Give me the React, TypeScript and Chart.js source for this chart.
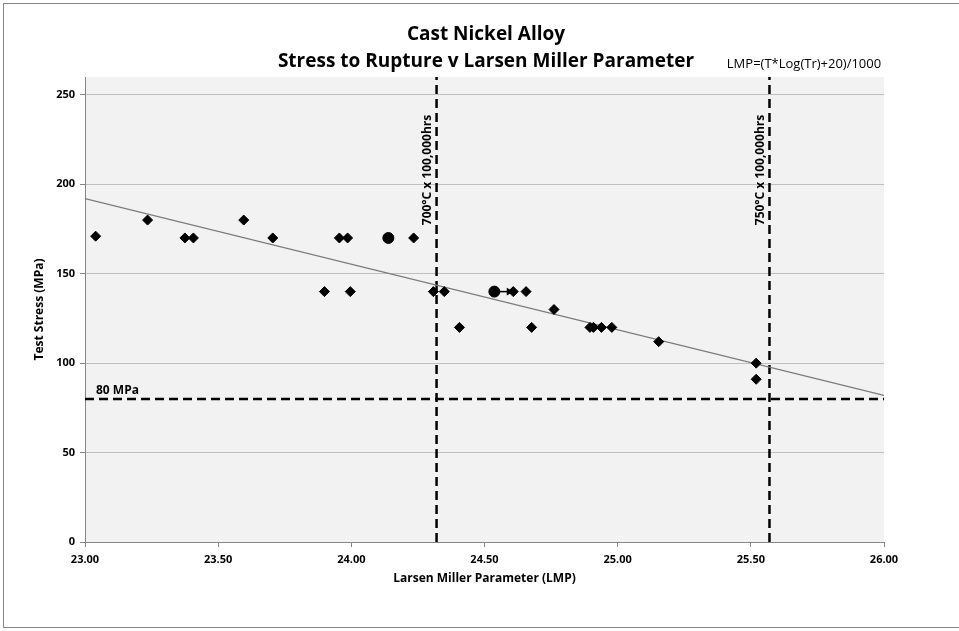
import React, { useEffect, useRef } from "react";
import { Chart, registerables } from "chart.js";

Chart.register(...registerables);

const FONT = '"Open Sans", "Liberation Sans", sans-serif';

const TITLE = "Cast Nickel Alloy";
const SUBTITLE = "Stress to Rupture v Larsen Miller Parameter";
const FORMULA = "LMP=(T*Log(Tr)+20)/1000";
const X_TITLE = "Larsen Miller Parameter (LMP)";
const Y_TITLE = "Test Stress (MPa)";

const diamondLmp = [23.04, 23.235, 23.375, 23.407, 23.596, 23.705, 23.899, 23.955, 23.986, 23.996, 24.234, 24.308, 24.349, 24.406, 24.608, 24.656, 24.677, 24.761, 24.896, 24.909, 24.939, 24.978, 25.154, 25.52, 25.52];
const diamondStress = [171, 180, 170, 170, 180, 170, 140, 170, 170, 140, 170, 140, 140, 120, 140, 140, 120, 130, 120, 120, 120, 120, 112, 100, 91];

const circleLmp = [24.139, 24.537];
const circleStress = [170, 140];

const arrowLmp = [24.556, 24.592];
const arrowStress = [140, 140];

const trendLmp = [23.0, 26.0];
const trendStress = [192, 82];

const refLines = [
  { lmp: 24.32, label: "700°C x 100,000hrs" },
  { lmp: 25.57, label: "750°C x 100,000hrs" },
];
const limitStress = 80;
const limitLabel = "80 MPa";

const X_MIN = 23, X_MAX = 26, Y_MIN = 0, Y_MAX = 260;

const pts = (xs: number[], ys: number[]) => xs.map((x, i) => ({ x, y: ys[i] }));

export default function App() {
  const ref = useRef<HTMLCanvasElement>(null);
  useEffect(() => {
    document.body.style.margin = "0";
    const ctx = ref.current!.getContext("2d")!;
    const dash = [9, 5];
    const textPlugin = {
      id: "texts",
      beforeDraw(chart: any) {
        const { ctx, chartArea: a } = chart;
        ctx.save();
        ctx.fillStyle = "#ffffff";
        ctx.fillRect(0, 0, chart.width, chart.height);
        ctx.strokeStyle = "#868686";
        ctx.lineWidth = 1;
        ctx.strokeRect(3.5, 3.5, 970, 624);
        ctx.fillStyle = "#f2f2f2";
        ctx.fillRect(a.left, a.top, a.right - a.left, a.bottom - a.top);
        ctx.restore();
      },
      afterDraw(chart: any) {
        const { ctx, chartArea: a, scales } = chart;
        const xs = scales.x, ys = scales.y;
        ctx.save();
        ctx.fillStyle = "#000";
        ctx.textAlign = "center";
        ctx.textBaseline = "middle";
        ctx.font = `bold 19px ${FONT}`;
        ctx.fillText(TITLE, 486, 35);
        ctx.fillText(SUBTITLE, 486, 62);
        ctx.font = `13px ${FONT}`;
        ctx.fillText(FORMULA, 804, 64);
        ctx.font = `bold 12px ${FONT}`;
        ctx.fillText(X_TITLE, (a.left + a.right) / 2, 579);
        ctx.save();
        ctx.translate(40, (a.top + a.bottom) / 2);
        ctx.rotate(-Math.PI / 2);
        ctx.fillText(Y_TITLE, 0, 0);
        ctx.restore();
        ctx.font = `bold 12px ${FONT}`;
        ctx.textAlign = "left";
        ctx.textBaseline = "middle";
        ctx.fillText(limitLabel, a.left + 11, ys.getPixelForValue(limitStress) - 8);
        ctx.font = `bold 12px ${FONT}`;
        ctx.textAlign = "center";
        ctx.textBaseline = "middle";
        refLines.forEach((r) => {
          ctx.save();
          ctx.translate(xs.getPixelForValue(r.lmp) - 9, ys.getPixelForValue(208));
          ctx.rotate(-Math.PI / 2);
          ctx.fillText(r.label, 0, 0);
          ctx.restore();
        });
        ctx.restore();
      },
    };

    const chart = new Chart(ctx, {
      type: "scatter",
      data: {
        datasets: [
          ...refLines.map((r) => ({
            type: "line" as const,
            data: [{ x: r.lmp, y: Y_MIN }, { x: r.lmp, y: Y_MAX }],
            borderColor: "#000",
            borderWidth: 2.5,
            borderDash: dash,
            pointRadius: 0,
            order: 5,
          })),
          {
            type: "line" as const,
            data: [{ x: X_MIN, y: limitStress }, { x: X_MAX, y: limitStress }],
            borderColor: "#000",
            borderWidth: 2.5,
            borderDash: dash,
            pointRadius: 0,
            order: 5,
          },
          {
            type: "line" as const,
            data: pts(trendLmp, trendStress),
            borderColor: "#7a7a7a",
            borderWidth: 1.2,
            pointRadius: 0,
            order: 4,
          },
          {
            type: "line" as const,
            data: pts(arrowLmp, arrowStress),
            borderColor: "#000",
            borderWidth: 1.5,
            pointRadius: [0, 3],
            pointStyle: "triangle",
            rotation: 90,
            pointBackgroundColor: "#000",
            pointBorderColor: "#000",
            order: 2,
          },
          {
            data: pts(diamondLmp, diamondStress),
            pointStyle: "rectRot",
            pointRadius: 5,
            backgroundColor: "#000",
            borderColor: "#000",
            order: 1,
          },
          {
            data: pts(circleLmp, circleStress),
            pointStyle: "circle",
            pointRadius: 5.5,
            backgroundColor: "#000",
            borderColor: "#000",
            order: 1,
          },
        ],
      },
      options: {
        animation: false,
        responsive: false,
        layout: { padding: { left: 0, top: 77, right: 75, bottom: 0 } },
        plugins: { legend: { display: false }, tooltip: { enabled: false } },
        scales: {
          x: {
            type: "linear",
            min: X_MIN,
            max: X_MAX,
            afterFit: (s: any) => { s.height = 89; },
            ticks: {
              stepSize: 0.5,
              color: "#000",
              padding: 6,
              font: { family: FONT, size: 11, weight: "bold" },
              callback: (v: any) => Number(v).toFixed(2),
            },
            grid: { drawOnChartArea: false, drawTicks: true, tickLength: 5, color: "#868686" },
            border: { color: "#868686" },
          },
          y: {
            type: "linear",
            min: Y_MIN,
            max: Y_MAX,
            afterFit: (s: any) => { s.width = 85; },
            afterBuildTicks: (s: any) => { s.ticks = s.ticks.filter((t: any) => t.value % 50 === 0); },
            ticks: {
              stepSize: 50,
              color: "#000",
              padding: 5,
              font: { family: FONT, size: 11, weight: "bold" },
            },
            grid: { color: "#bfbfbf", tickLength: 5, tickColor: "#868686" },
            border: { color: "#868686" },
          },
        },
      },
      plugins: [textPlugin],
    } as any);
    return () => chart.destroy();
  }, []);
  return (
    <div style={{ position: "fixed", left: 0, top: 0, width: 959, height: 631 }}>
      <canvas ref={ref} width={959} height={631} style={{ width: 959, height: 631 }} />
    </div>
  );
}
